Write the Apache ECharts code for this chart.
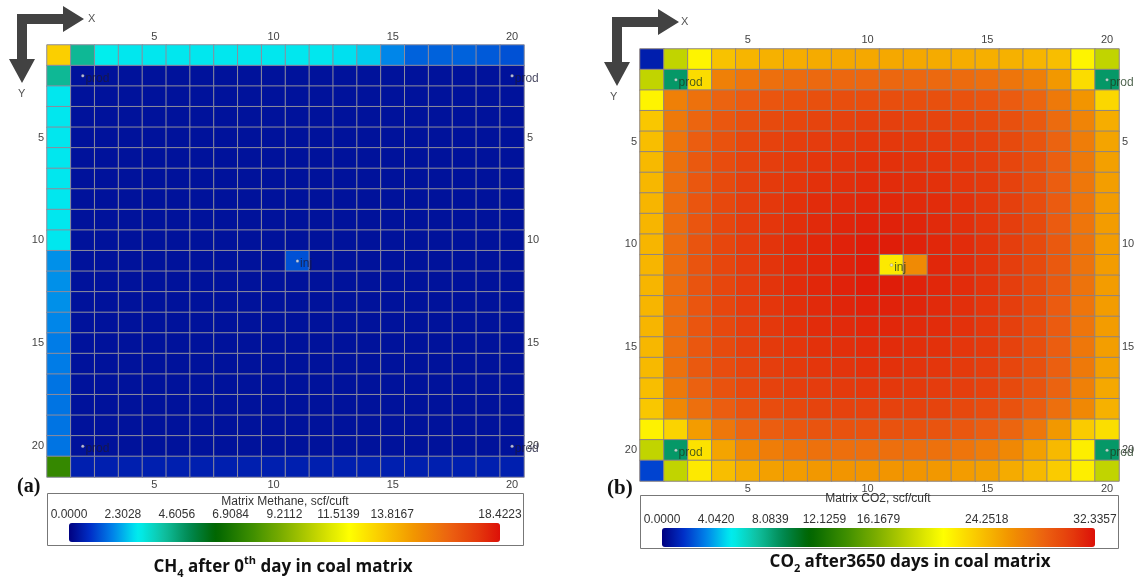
<!DOCTYPE html>
<html>
<head>
<meta charset="utf-8">
<script src="https://cdn.jsdelivr.net/npm/echarts@6/dist/echarts.min.js"></script>
<style>
  html, body { margin: 0; padding: 0; background: #ffffff; }
  #chart { width: 1146px; height: 581px; }
</style>
</head>
<body>
<div id="chart"></div>
<script>
// Grid block indices (I along X, J along Y)
const xCategories = ['1','2','3','4','5','6','7','8','9','10','11','12','13','14','15','16','17','18','19','20'];
const yCategories = ['1','2','3','4','5','6','7','8','9','10','11','12','13','14','15','16','17','18','19','20','21'];
const shownIndexLabels = ['5', '10', '15', '20'];

// Matrix methane content at day 0, scf/cuft (one row per J, one value per I)
const methaneValues = [
  [13.2, 4.2, 3.0, 2.9, 2.9, 2.9, 2.9, 2.9, 2.9, 2.9, 2.9, 2.9, 2.8, 2.6, 1.9, 1.5, 1.5, 1.5, 1.4, 1.3],
  [4.2, 0.35, 0.35, 0.35, 0.35, 0.35, 0.35, 0.35, 0.35, 0.35, 0.35, 0.35, 0.35, 0.35, 0.35, 0.35, 0.35, 0.35, 0.35, 0.35],
  [2.9, 0.35, 0.35, 0.35, 0.35, 0.35, 0.35, 0.35, 0.35, 0.35, 0.35, 0.35, 0.35, 0.35, 0.35, 0.35, 0.35, 0.35, 0.35, 0.35],
  [2.9, 0.35, 0.35, 0.35, 0.35, 0.35, 0.35, 0.35, 0.35, 0.35, 0.35, 0.35, 0.35, 0.35, 0.35, 0.35, 0.35, 0.35, 0.35, 0.35],
  [2.9, 0.35, 0.35, 0.35, 0.35, 0.35, 0.35, 0.35, 0.35, 0.35, 0.35, 0.35, 0.35, 0.35, 0.35, 0.35, 0.35, 0.35, 0.35, 0.35],
  [2.9, 0.35, 0.35, 0.35, 0.35, 0.35, 0.35, 0.35, 0.35, 0.35, 0.35, 0.35, 0.35, 0.35, 0.35, 0.35, 0.35, 0.35, 0.35, 0.35],
  [2.9, 0.35, 0.35, 0.35, 0.35, 0.35, 0.35, 0.35, 0.35, 0.35, 0.35, 0.35, 0.35, 0.35, 0.35, 0.35, 0.35, 0.35, 0.35, 0.35],
  [2.9, 0.35, 0.35, 0.35, 0.35, 0.35, 0.35, 0.35, 0.35, 0.35, 0.35, 0.35, 0.35, 0.35, 0.35, 0.35, 0.35, 0.35, 0.35, 0.35],
  [2.9, 0.35, 0.35, 0.35, 0.35, 0.35, 0.35, 0.35, 0.35, 0.35, 0.35, 0.35, 0.35, 0.35, 0.35, 0.35, 0.35, 0.35, 0.35, 0.35],
  [2.9, 0.35, 0.35, 0.35, 0.35, 0.35, 0.35, 0.35, 0.35, 0.35, 0.35, 0.35, 0.35, 0.35, 0.35, 0.35, 0.35, 0.35, 0.35, 0.35],
  [2.0, 0.35, 0.35, 0.35, 0.35, 0.35, 0.35, 0.35, 0.35, 0.35, 1.3, 0.35, 0.35, 0.35, 0.35, 0.35, 0.35, 0.35, 0.35, 0.35],
  [2.0, 0.35, 0.35, 0.35, 0.35, 0.35, 0.35, 0.35, 0.35, 0.35, 0.35, 0.35, 0.35, 0.35, 0.35, 0.35, 0.35, 0.35, 0.35, 0.35],
  [2.0, 0.35, 0.35, 0.35, 0.35, 0.35, 0.35, 0.35, 0.35, 0.35, 0.35, 0.35, 0.35, 0.35, 0.35, 0.35, 0.35, 0.35, 0.35, 0.35],
  [1.9, 0.35, 0.35, 0.35, 0.35, 0.35, 0.35, 0.35, 0.35, 0.35, 0.35, 0.35, 0.35, 0.35, 0.35, 0.35, 0.35, 0.35, 0.35, 0.35],
  [1.8, 0.35, 0.35, 0.35, 0.35, 0.35, 0.35, 0.35, 0.35, 0.35, 0.35, 0.35, 0.35, 0.35, 0.35, 0.35, 0.35, 0.35, 0.35, 0.35],
  [1.8, 0.35, 0.35, 0.35, 0.35, 0.35, 0.35, 0.35, 0.35, 0.35, 0.35, 0.35, 0.35, 0.35, 0.35, 0.35, 0.35, 0.35, 0.35, 0.35],
  [1.7, 0.35, 0.35, 0.35, 0.35, 0.35, 0.35, 0.35, 0.35, 0.35, 0.35, 0.35, 0.35, 0.35, 0.35, 0.35, 0.35, 0.35, 0.35, 0.35],
  [1.7, 0.35, 0.35, 0.35, 0.35, 0.35, 0.35, 0.35, 0.35, 0.35, 0.35, 0.35, 0.35, 0.35, 0.35, 0.35, 0.35, 0.35, 0.35, 0.35],
  [1.7, 0.35, 0.35, 0.35, 0.35, 0.35, 0.35, 0.35, 0.35, 0.35, 0.35, 0.35, 0.35, 0.35, 0.35, 0.35, 0.35, 0.35, 0.35, 0.35],
  [1.7, 0.35, 0.35, 0.35, 0.35, 0.35, 0.35, 0.35, 0.35, 0.35, 0.35, 0.35, 0.35, 0.35, 0.35, 0.35, 0.35, 0.35, 0.35, 0.35],
  [7.6, 0.6, 0.6, 0.6, 0.6, 0.6, 0.6, 0.6, 0.6, 0.6, 0.6, 0.6, 0.6, 0.6, 0.6, 0.6, 0.6, 0.6, 0.6, 0.6]
];

// Matrix CO2 content after 3650 days, scf/cuft
const co2Values = [
  [1.0, 18.5, 21.5, 23.8, 24.4, 24.6, 24.8, 24.9, 25.0, 25.0, 25.0, 25.0, 24.9, 24.8, 24.7, 24.6, 24.4, 24.0, 21.5, 18.5],
  [18.5, 8.5, 22.6, 27.0, 27.6, 27.9, 28.1, 28.2, 28.3, 28.3, 28.3, 28.3, 28.2, 28.1, 27.9, 27.6, 27.1, 25.8, 22.6, 8.5],
  [21.5, 27.0, 27.8, 28.5, 28.9, 29.2, 29.4, 29.5, 29.6, 29.6, 29.6, 29.6, 29.5, 29.4, 29.2, 28.9, 28.4, 27.4, 25.9, 22.8],
  [23.6, 27.4, 28.4, 29.1, 29.5, 29.8, 30.0, 30.1, 30.2, 30.3, 30.3, 30.2, 30.1, 30.0, 29.8, 29.5, 29.0, 28.1, 26.8, 24.8],
  [24.0, 27.6, 28.8, 29.4, 29.9, 30.2, 30.4, 30.5, 30.6, 30.7, 30.7, 30.6, 30.5, 30.4, 30.2, 29.8, 29.3, 28.5, 27.2, 25.2],
  [24.2, 27.8, 29.0, 29.7, 30.1, 30.4, 30.6, 30.8, 30.9, 31.0, 31.0, 30.9, 30.8, 30.6, 30.4, 30.0, 29.5, 28.7, 27.4, 25.4],
  [24.3, 27.9, 29.1, 29.8, 30.3, 30.6, 30.8, 31.0, 31.1, 31.2, 31.2, 31.1, 31.0, 30.8, 30.6, 30.2, 29.6, 28.8, 27.5, 25.5],
  [24.4, 28.0, 29.2, 29.9, 30.4, 30.7, 31.0, 31.2, 31.3, 31.4, 31.4, 31.3, 31.2, 31.0, 30.7, 30.3, 29.7, 28.9, 27.6, 25.6],
  [24.4, 28.0, 29.2, 30.0, 30.5, 30.8, 31.1, 31.3, 31.5, 31.6, 31.6, 31.5, 31.3, 31.1, 30.8, 30.4, 29.8, 28.9, 27.6, 25.6],
  [24.4, 28.0, 29.3, 30.0, 30.5, 30.9, 31.2, 31.4, 31.6, 31.8, 31.8, 31.6, 31.4, 31.2, 30.9, 30.4, 29.8, 29.0, 27.7, 25.6],
  [24.4, 28.0, 29.3, 30.0, 30.5, 30.9, 31.2, 31.4, 31.6, 31.8, 22.0, 26.5, 31.4, 31.2, 30.9, 30.4, 29.8, 29.0, 27.7, 25.6],
  [24.4, 28.0, 29.3, 30.0, 30.5, 30.9, 31.2, 31.4, 31.6, 31.8, 31.8, 31.6, 31.4, 31.2, 30.9, 30.4, 29.8, 29.0, 27.7, 25.6],
  [24.4, 28.0, 29.2, 30.0, 30.5, 30.8, 31.1, 31.3, 31.5, 31.6, 31.6, 31.5, 31.3, 31.1, 30.8, 30.4, 29.8, 28.9, 27.6, 25.6],
  [24.4, 28.0, 29.2, 29.9, 30.4, 30.7, 31.0, 31.2, 31.3, 31.4, 31.4, 31.3, 31.2, 31.0, 30.7, 30.3, 29.7, 28.9, 27.6, 25.6],
  [24.3, 27.9, 29.1, 29.8, 30.3, 30.6, 30.8, 31.0, 31.1, 31.2, 31.2, 31.1, 31.0, 30.8, 30.6, 30.2, 29.6, 28.8, 27.5, 25.5],
  [24.2, 27.8, 29.0, 29.7, 30.1, 30.4, 30.6, 30.8, 30.9, 31.0, 31.0, 30.9, 30.8, 30.6, 30.4, 30.0, 29.5, 28.7, 27.4, 25.4],
  [24.0, 27.4, 28.6, 29.4, 29.9, 30.2, 30.4, 30.5, 30.6, 30.7, 30.7, 30.6, 30.5, 30.4, 30.2, 29.8, 29.3, 28.5, 27.0, 25.0],
  [23.6, 26.6, 27.9, 28.8, 29.4, 29.7, 29.9, 30.1, 30.2, 30.2, 30.2, 30.2, 30.1, 29.9, 29.7, 29.4, 28.8, 27.9, 26.6, 24.6],
  [21.6, 23.0, 25.6, 27.5, 28.4, 28.8, 29.1, 29.3, 29.4, 29.4, 29.4, 29.4, 29.3, 29.1, 28.8, 28.4, 27.5, 25.8, 23.4, 22.5],
  [18.5, 8.5, 22.3, 25.2, 26.6, 27.2, 27.6, 27.8, 27.9, 27.9, 27.9, 27.9, 27.8, 27.6, 27.2, 26.6, 25.4, 24.2, 21.8, 8.5],
  [2.0, 18.5, 22.0, 24.0, 24.9, 25.4, 25.6, 25.8, 25.9, 25.9, 25.9, 25.9, 25.8, 25.6, 25.4, 24.9, 24.2, 23.4, 21.8, 18.5]
];

// Colour scale ranges and legend tick values
const methaneMax = 18.4223;
const co2Max = 32.3357;
const methaneLegendTicks = [0, 2.3028, 4.6056, 6.9084, 9.2112, 11.5139, 13.8167, 18.4223];
const co2LegendTicks = [0, 4.0420, 8.0839, 12.1259, 16.1679, 24.2518, 32.3357];

// Well locations [I, J, name]
const wells = [
  ['2', '2', 'prod'], ['20', '2', 'prod'], ['11', '11', 'inj'], ['2', '20', 'prod'], ['20', '20', 'prod']
];

// Rainbow colour table (fraction of range -> colour), resampled evenly for visualMap
const rampStops = [
  [0.00, [0, 0, 128]], [0.05, [0, 48, 200]], [0.10, [0, 128, 232]], [0.16, [0, 240, 240]],
  [0.22, [16, 192, 160]], [0.28, [0, 136, 80]], [0.34, [0, 100, 0]], [0.42, [58, 140, 0]],
  [0.50, [128, 176, 0]], [0.58, [200, 216, 0]], [0.65, [255, 255, 0]], [0.72, [250, 205, 0]],
  [0.80, [242, 150, 0]], [0.88, [236, 100, 16]], [0.95, [228, 56, 12]], [1.00, [220, 16, 8]]
];
function buildRamp(n) {
  const out = [];
  for (let i = 0; i < n; i++) {
    const t = i / (n - 1);
    let k = 0;
    while (k < rampStops.length - 2 && rampStops[k + 1][0] < t) k++;
    const [t0, c0] = rampStops[k];
    const [t1, c1] = rampStops[k + 1];
    const f = Math.min(1, Math.max(0, (t - t0) / (t1 - t0)));
    const c = c0.map((v, j) => Math.round(v + (c1[j] - v) * f));
    out.push('rgb(' + c.join(',') + ')');
  }
  return out;
}
const ramp = buildRamp(81);

function toCells(rows) {
  const cells = [];
  rows.forEach((row, j) => row.forEach((v, i) => cells.push([i, j, v])));
  return cells;
}

const labelFont = 'Liberation Sans, Arial, sans-serif';
const showIdx = (idx, val) => shownIndexLabels.indexOf(String(val)) >= 0;

function blockAxes(gridIndex, mTop, mBottom, mLeft, mRight) {
  const lbl = { interval: showIdx, color: '#444', fontSize: 11, fontFamily: labelFont };
  const common = {
    type: 'category', gridIndex,
    axisLine: { show: false }, axisTick: { show: false }, splitLine: { show: false }
  };
  return {
    x: [
      Object.assign({}, common, { data: xCategories, position: 'top', axisLabel: Object.assign({ margin: mTop }, lbl) }),
      Object.assign({}, common, { data: xCategories, position: 'bottom', axisLabel: Object.assign({ margin: mBottom }, lbl) })
    ],
    y: [
      Object.assign({}, common, { data: yCategories, inverse: true, position: 'left', axisLabel: Object.assign({ margin: mLeft }, lbl) }),
      Object.assign({}, common, { data: yCategories, inverse: true, position: 'right', axisLabel: Object.assign({ margin: mRight }, lbl) })
    ]
  };
}
const axesA = blockAxes(0, 3, 2, 3, 3);
const axesB = blockAxes(1, 4, 2, 3, 3);

function legendAxes(gridIndex, max, ticks) {
  return {
    x: {
      type: 'value', gridIndex, min: 0, max: max, position: 'top',
      axisLine: { show: false }, axisTick: { show: false }, splitLine: { show: false },
      axisLabel: {
        customValues: ticks, formatter: v => v.toFixed(4),
        color: '#333', fontSize: 12, fontFamily: labelFont, margin: 2
      }
    },
    y: { type: 'value', gridIndex, show: false, min: 0, max: 1 }
  };
}
const legA = legendAxes(2, methaneMax, methaneLegendTicks);
const legB = legendAxes(3, co2Max, co2LegendTicks);

function wellSeries(xAxisIndex, yAxisIndex, textColor) {
  return {
    type: 'scatter', xAxisIndex, yAxisIndex,
    data: wells.map(w => ({ value: [w[0], w[1]], name: w[2] })),
    symbol: 'circle', symbolSize: 3,
    itemStyle: { color: '#e8e8e8', borderColor: '#555', borderWidth: 0.3 },
    label: {
      show: true, position: 'right', distance: 1, formatter: p => p.name,
      color: textColor, fontSize: 12, fontFamily: labelFont, offset: [0, 3]
    },
    z: 5, silent: true
  };
}

function arrowPoints(dx, dy) {
  const p = [[17,14],[63,14],[63,6],[84,19],[63,32],[63,24],[27,24],[27,59],[35,59],[22,83],[9,59],[17,59]];
  return p.map(([x, y]) => [x + dx, y + dy]);
}

const captionFont = 'Open Sans, Lato, sans-serif';
const captionRich = {
  a: { fontSize: 17, fontWeight: 'bold', fontFamily: captionFont, color: '#111', lineHeight: 24 },
  sub: { fontSize: 11, fontWeight: 'bold', fontFamily: captionFont, color: '#111', lineHeight: 12, verticalAlign: 'bottom' },
  sup: { fontSize: 11, fontWeight: 'bold', fontFamily: captionFont, color: '#111', lineHeight: 12, verticalAlign: 'top' }
};
const panelTagStyle = { fontWeight: 'bold', color: '#111', fontFamily: 'Liberation Serif, serif' };

const chart = echarts.init(document.getElementById('chart'), null, { renderer: 'canvas' });
chart.setOption({
  backgroundColor: '#ffffff',
  animation: false,
  grid: [
    { left: 47, top: 45, width: 477, height: 432 },
    { left: 640, top: 49, width: 479, height: 432 },
    { left: 69, top: 523, width: 431, height: 19 },
    { left: 662, top: 528, width: 433, height: 19 }
  ],
  xAxis: [axesA.x[0], axesA.x[1], axesB.x[0], axesB.x[1], legA.x, legB.x],
  yAxis: [axesA.y[0], axesA.y[1], axesB.y[0], axesB.y[1], legA.y, legB.y],
  visualMap: [
    {
      type: 'continuous', seriesIndex: 0, min: 0, max: methaneMax,
      orient: 'horizontal', left: 69, top: 523, itemWidth: 19, itemHeight: 431,
      padding: 0, calculable: false, hoverLink: false, inRange: { color: ramp }
    },
    {
      type: 'continuous', seriesIndex: 1, min: 0, max: co2Max,
      orient: 'horizontal', left: 662, top: 528, itemWidth: 19, itemHeight: 433,
      padding: 0, calculable: false, hoverLink: false, inRange: { color: ramp }
    }
  ],
  title: [
    { text: 'Matrix Methane, scf/cuft', left: 285, top: 496, textAlign: 'center',
      textStyle: { fontSize: 12, fontWeight: 'normal', color: '#333', fontFamily: labelFont }, padding: 0 },
    { text: 'Matrix CO2, scf/cuft', left: 878, top: 493, textAlign: 'center',
      textStyle: { fontSize: 12, fontWeight: 'normal', color: '#333', fontFamily: labelFont }, padding: 0 },
    { text: '{a|CH}{sub|4}{a| after 0}{sup|th}{a| day in coal matrix}', left: 283, top: 555, textAlign: 'center',
      textStyle: { rich: captionRich }, padding: 0 },
    { text: '{a|CO}{sub|2}{a| after3650 days in coal matrix}', left: 910, top: 550, textAlign: 'center',
      textStyle: { rich: captionRich }, padding: 0 },
    { text: '(a)', left: 17, top: 477, textStyle: Object.assign({ fontSize: 20 }, panelTagStyle), padding: 0 },
    { text: '(b)', left: 607, top: 478, textStyle: Object.assign({ fontSize: 21 }, panelTagStyle), padding: 0 }
  ],
  graphic: [
    { type: 'polygon', shape: { points: arrowPoints(0, 0) }, style: { fill: '#424242' } },
    { type: 'polygon', shape: { points: arrowPoints(595, 3) }, style: { fill: '#424242' } },
    { type: 'text', x: 88, y: 13, style: { text: 'X', fill: '#555', fontSize: 11, fontFamily: labelFont } },
    { type: 'text', x: 681, y: 16, style: { text: 'X', fill: '#555', fontSize: 11, fontFamily: labelFont } },
    { type: 'text', x: 18, y: 88, style: { text: 'Y', fill: '#555', fontSize: 11, fontFamily: labelFont } },
    { type: 'text', x: 610, y: 91, style: { text: 'Y', fill: '#555', fontSize: 11, fontFamily: labelFont } },
    { type: 'rect', shape: { x: 47.5, y: 493.5, width: 476, height: 52 }, style: { fill: 'none', stroke: '#777', lineWidth: 1 } },
    { type: 'rect', shape: { x: 640.5, y: 495.5, width: 478, height: 53 }, style: { fill: 'none', stroke: '#777', lineWidth: 1 } }
  ],
  series: [
    {
      type: 'heatmap', xAxisIndex: 0, yAxisIndex: 0, data: toCells(methaneValues),
      itemStyle: { borderColor: '#8c8c9c', borderWidth: 1 }, silent: true
    },
    {
      type: 'heatmap', xAxisIndex: 2, yAxisIndex: 2, data: toCells(co2Values),
      itemStyle: { borderColor: '#8f8580', borderWidth: 1 }, silent: true
    },
    wellSeries(0, 0, '#1a1a3a'),
    wellSeries(2, 2, '#1e3a1e')
  ]
});
</script>
</body>
</html>
